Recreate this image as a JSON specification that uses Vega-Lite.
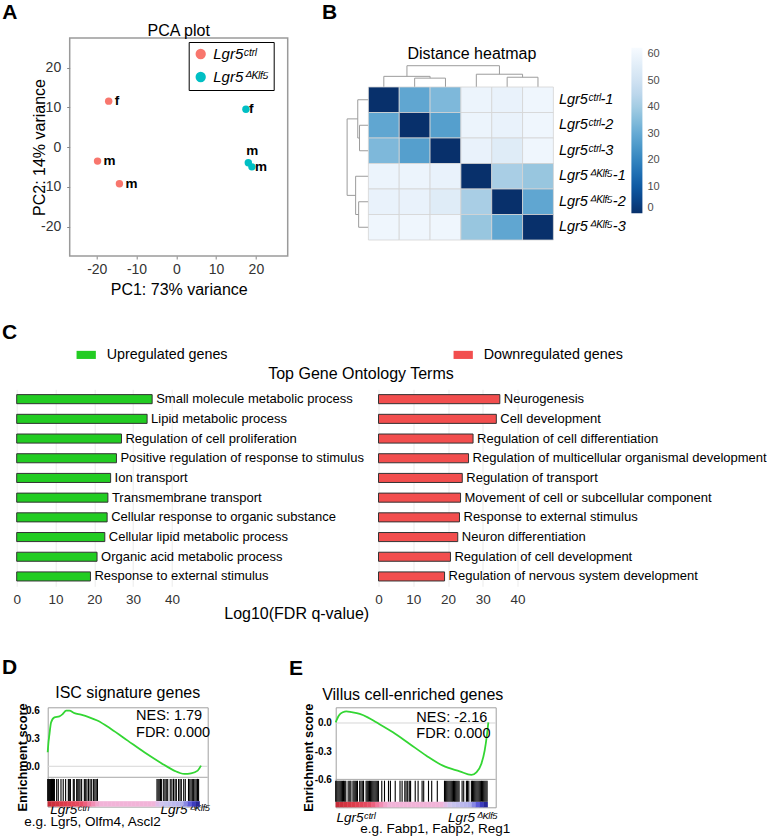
{
"$schema": "https://vega.github.io/schema/vega-lite/v6.json",
"background": "white",
"padding": {"left": 0, "top": 0, "right": 0, "bottom": 0},
"config": {"font": "Liberation Sans", "view": {"stroke": null}, "title": {"color": "black", "fontWeight": "normal"}, "axis": {"labelColor": "#333", "titleColor": "black", "titleFontWeight": "normal"}},
"datasets": {
"sp": [{"s": 0}],
"dendro": [
{"p1":1.5,"p2":1.5,"h1":0,"h2":25},{"p1":2.5,"p2":2.5,"h1":0,"h2":25},{"p1":1.5,"p2":2.5,"h1":25,"h2":25},
{"p1":0.5,"p2":0.5,"h1":0,"h2":30},{"p1":2.0,"p2":2.0,"h1":25,"h2":30},{"p1":0.5,"p2":2.0,"h1":30,"h2":30},
{"p1":4.5,"p2":4.5,"h1":0,"h2":27.5},{"p1":5.5,"p2":5.5,"h1":0,"h2":27.5},{"p1":4.5,"p2":5.5,"h1":27.5,"h2":27.5},
{"p1":3.5,"p2":3.5,"h1":0,"h2":36},{"p1":5.0,"p2":5.0,"h1":27.5,"h2":36},{"p1":3.5,"p2":5.0,"h1":36,"h2":36},
{"p1":1.25,"p2":1.25,"h1":30,"h2":60},{"p1":4.25,"p2":4.25,"h1":36,"h2":60},{"p1":1.25,"p2":4.25,"h1":60,"h2":60}
],
"dist": [
{"r":"Lgr5ᶜᵗʳˡ-1","c":"Lgr5ᶜᵗʳˡ-1","d":0},{"r":"Lgr5ᶜᵗʳˡ-1","c":"Lgr5ᶜᵗʳˡ-2","d":29},{"r":"Lgr5ᶜᵗʳˡ-1","c":"Lgr5ᶜᵗʳˡ-3","d":34},{"r":"Lgr5ᶜᵗʳˡ-1","c":"Lgr5ᐞᴷˡᶠ⁵-1","d":59},{"r":"Lgr5ᶜᵗʳˡ-1","c":"Lgr5ᐞᴷˡᶠ⁵-2","d":58},{"r":"Lgr5ᶜᵗʳˡ-1","c":"Lgr5ᐞᴷˡᶠ⁵-3","d":60},
{"r":"Lgr5ᶜᵗʳˡ-2","c":"Lgr5ᶜᵗʳˡ-1","d":29},{"r":"Lgr5ᶜᵗʳˡ-2","c":"Lgr5ᶜᵗʳˡ-2","d":0},{"r":"Lgr5ᶜᵗʳˡ-2","c":"Lgr5ᶜᵗʳˡ-3","d":27},{"r":"Lgr5ᶜᵗʳˡ-2","c":"Lgr5ᐞᴷˡᶠ⁵-1","d":59},{"r":"Lgr5ᶜᵗʳˡ-2","c":"Lgr5ᐞᴷˡᶠ⁵-2","d":58},{"r":"Lgr5ᶜᵗʳˡ-2","c":"Lgr5ᐞᴷˡᶠ⁵-3","d":60},
{"r":"Lgr5ᶜᵗʳˡ-3","c":"Lgr5ᶜᵗʳˡ-1","d":34},{"r":"Lgr5ᶜᵗʳˡ-3","c":"Lgr5ᶜᵗʳˡ-2","d":27},{"r":"Lgr5ᶜᵗʳˡ-3","c":"Lgr5ᶜᵗʳˡ-3","d":0},{"r":"Lgr5ᶜᵗʳˡ-3","c":"Lgr5ᐞᴷˡᶠ⁵-1","d":58},{"r":"Lgr5ᶜᵗʳˡ-3","c":"Lgr5ᐞᴷˡᶠ⁵-2","d":55},{"r":"Lgr5ᶜᵗʳˡ-3","c":"Lgr5ᐞᴷˡᶠ⁵-3","d":60},
{"r":"Lgr5ᐞᴷˡᶠ⁵-1","c":"Lgr5ᶜᵗʳˡ-1","d":59},{"r":"Lgr5ᐞᴷˡᶠ⁵-1","c":"Lgr5ᶜᵗʳˡ-2","d":59},{"r":"Lgr5ᐞᴷˡᶠ⁵-1","c":"Lgr5ᶜᵗʳˡ-3","d":58},{"r":"Lgr5ᐞᴷˡᶠ⁵-1","c":"Lgr5ᐞᴷˡᶠ⁵-1","d":0},{"r":"Lgr5ᐞᴷˡᶠ⁵-1","c":"Lgr5ᐞᴷˡᶠ⁵-2","d":41},{"r":"Lgr5ᐞᴷˡᶠ⁵-1","c":"Lgr5ᐞᴷˡᶠ⁵-3","d":38},
{"r":"Lgr5ᐞᴷˡᶠ⁵-2","c":"Lgr5ᶜᵗʳˡ-1","d":58},{"r":"Lgr5ᐞᴷˡᶠ⁵-2","c":"Lgr5ᶜᵗʳˡ-2","d":58},{"r":"Lgr5ᐞᴷˡᶠ⁵-2","c":"Lgr5ᶜᵗʳˡ-3","d":55},{"r":"Lgr5ᐞᴷˡᶠ⁵-2","c":"Lgr5ᐞᴷˡᶠ⁵-1","d":41},{"r":"Lgr5ᐞᴷˡᶠ⁵-2","c":"Lgr5ᐞᴷˡᶠ⁵-2","d":0},{"r":"Lgr5ᐞᴷˡᶠ⁵-2","c":"Lgr5ᐞᴷˡᶠ⁵-3","d":29},
{"r":"Lgr5ᐞᴷˡᶠ⁵-3","c":"Lgr5ᶜᵗʳˡ-1","d":60},{"r":"Lgr5ᐞᴷˡᶠ⁵-3","c":"Lgr5ᶜᵗʳˡ-2","d":60},{"r":"Lgr5ᐞᴷˡᶠ⁵-3","c":"Lgr5ᶜᵗʳˡ-3","d":60},{"r":"Lgr5ᐞᴷˡᶠ⁵-3","c":"Lgr5ᐞᴷˡᶠ⁵-1","d":38},{"r":"Lgr5ᐞᴷˡᶠ⁵-3","c":"Lgr5ᐞᴷˡᶠ⁵-2","d":29},{"r":"Lgr5ᐞᴷˡᶠ⁵-3","c":"Lgr5ᐞᴷˡᶠ⁵-3","d":0}
],
"grad": [{"r":0.0125},{"r":0.0375},{"r":0.0625},{"r":0.0875},{"r":0.1125},{"r":0.1375},{"r":0.1625},{"r":0.1875},{"r":0.2125},{"r":0.2375},{"r":0.2625},{"r":0.2875},{"r":0.3125},{"r":0.3375},{"r":0.3625},{"r":0.3875},{"r":0.4125},{"r":0.4375},{"r":0.4625},{"r":0.4875},{"r":0.5125},{"r":0.5375},{"r":0.5625},{"r":0.5875},{"r":0.6125},{"r":0.6375},{"r":0.6625},{"r":0.6875},{"r":0.7125},{"r":0.7375},{"r":0.7625},{"r":0.7875},{"r":0.8125},{"r":0.8375},{"r":0.8625},{"r":0.8875},{"r":0.9125},{"r":0.9375}],
"hitsD": [{"r":0.000},{"r":0.006},{"r":0.012},{"r":0.018},{"r":0.024},{"r":0.030},{"r":0.036},{"r":0.042},{"r":0.056},{"r":0.066},{"r":0.083},{"r":0.097},{"r":0.112},{"r":0.129},{"r":0.135},{"r":0.142},{"r":0.160},{"r":0.166},{"r":0.181},{"r":0.188},{"r":0.195},{"r":0.202},{"r":0.212},{"r":0.229},{"r":0.235},{"r":0.245},{"r":0.255},{"r":0.265},{"r":0.275},{"r":0.287},{"r":0.295},{"r":0.303},{"r":0.311},{"r":0.683},{"r":0.690},{"r":0.697},{"r":0.705},{"r":0.712},{"r":0.725},{"r":0.733},{"r":0.741},{"r":0.750},{"r":0.766},{"r":0.776},{"r":0.786},{"r":0.796},{"r":0.804},{"r":0.818},{"r":0.827},{"r":0.835},{"r":0.850},{"r":0.860},{"r":0.880},{"r":0.888},{"r":0.896},{"r":0.904},{"r":0.912},{"r":0.920},{"r":0.928},{"r":0.936},{"r":0.943}],
"hitsE": [{"r":0},{"r":0.007},{"r":0.014},{"r":0.021},{"r":0.028},{"r":0.035},{"r":0.042},{"r":0.049},{"r":0.056},{"r":0.063},{"r":0.078},{"r":0.088},{"r":0.095},{"r":0.108},{"r":0.115},{"r":0.122},{"r":0.129},{"r":0.136},{"r":0.150},{"r":0.158},{"r":0.166},{"r":0.174},{"r":0.190},{"r":0.197},{"r":0.204},{"r":0.211},{"r":0.218},{"r":0.225},{"r":0.232},{"r":0.239},{"r":0.246},{"r":0.253},{"r":0.260},{"r":0.267},{"r":0.288},{"r":0.305},{"r":0.330},{"r":0.342},{"r":0.372},{"r":0.402},{"r":0.415},{"r":0.432},{"r":0.440},{"r":0.450},{"r":0.460},{"r":0.468},{"r":0.497},{"r":0.515},{"r":0.540},{"r":0.550},{"r":0.580},{"r":0.600},{"r":0.635},{"r":0.680},{"r":0.687},{"r":0.694},{"r":0.701},{"r":0.708},{"r":0.715},{"r":0.722},{"r":0.729},{"r":0.736},{"r":0.743},{"r":0.750},{"r":0.757},{"r":0.764},{"r":0.771},{"r":0.790},{"r":0.800},{"r":0.817},{"r":0.824},{"r":0.832},{"r":0.848},{"r":0.855},{"r":0.862},{"r":0.869},{"r":0.876},{"r":0.883},{"r":0.890},{"r":0.897},{"r":0.904},{"r":0.911},{"r":0.918},{"r":0.925},{"r":0.932},{"r":0.939},{"r":0.946}],
"esD": [{"r":0,"es":0.15},{"r":0.005,"es":0.26},{"r":0.01,"es":0.33},{"r":0.021,"es":0.47},{"r":0.042,"es":0.525},{"r":0.073,"es":0.535},{"r":0.094,"es":0.56},{"r":0.115,"es":0.596},{"r":0.135,"es":0.596},{"r":0.167,"es":0.57},{"r":0.208,"es":0.553},{"r":0.26,"es":0.525},{"r":0.31,"es":0.49},{"r":0.396,"es":0.40},{"r":0.5,"es":0.275},{"r":0.604,"es":0.15},{"r":0.708,"es":0.036},{"r":0.79,"es":-0.046},{"r":0.854,"es":-0.081},{"r":0.896,"es":-0.075},{"r":0.9375,"es":-0.046},{"r":0.958,"es":0.007}],
"esE": [{"r":0,"es":0.007},{"r":0.02,"es":0.08},{"r":0.045,"es":0.115},{"r":0.067,"es":0.124},{"r":0.1,"es":0.115},{"r":0.15,"es":0.096},{"r":0.2,"es":0.06},{"r":0.254,"es":0.007},{"r":0.358,"es":-0.099},{"r":0.4625,"es":-0.223},{"r":0.567,"es":-0.348},{"r":0.67,"es":-0.454},{"r":0.775,"es":-0.514},{"r":0.848,"es":-0.553},{"r":0.879,"es":-0.525},{"r":0.91,"es":-0.436},{"r":0.931,"es":-0.294},{"r":0.946,"es":-0.117},{"r":0.954,"es":0.007}]
},
"resolve": {"scale": {"color": "independent"}, "legend": {"color": "independent"}},
"vconcat": [
{
"hconcat": [
{"width": 1, "height": 1, "data": {"name": "sp"}, "mark": {"type": "point", "size": 0, "opacity": 0}},
{
"hconcat": [
{
"resolve": {"scale": {"color": "independent"}, "legend": {"color": "independent"}},
"vconcat": [
{"width": 1, "height": 1, "data": {"name": "sp"}, "mark": {"type": "point", "size": 0, "opacity": 0}},
{
"title": {"text": "A", "anchor": "start", "fontSize": 21, "fontWeight": "bold", "dx": -28.6, "offset": -0.5},
"vconcat": [{
"width": 218, "height": 218,
"title": {"text": "PCA plot", "fontSize": 16, "offset": -1},
"view": {"stroke": "#9a9a9a", "strokeWidth": 1.5},
"data": {"values": [
{"sample":"C1","group":"Lgr5ᶜᵗʳˡ","PC1":-17,"PC2":11.6,"sex":"f"},
{"sample":"C2","group":"Lgr5ᶜᵗʳˡ","PC1":-19.8,"PC2":-3.5,"sex":"m"},
{"sample":"C3","group":"Lgr5ᶜᵗʳˡ","PC1":-14.3,"PC2":-9.2,"sex":"m"},
{"sample":"K1","group":"Lgr5ᐞᴷˡᶠ⁵","PC1":17.5,"PC2":9.55,"sex":"f"},
{"sample":"K2","group":"Lgr5ᐞᴷˡᶠ⁵","PC1":18.1,"PC2":-3.9,"sex":"m"},
{"sample":"K3","group":"Lgr5ᐞᴷˡᶠ⁵","PC1":19.0,"PC2":-4.95,"sex":"m"}
]},
"encoding": {
"x": {"field": "PC1", "type": "quantitative", "scale": {"domain": [-26.8, 28], "nice": false, "zero": false},
 "axis": {"values": [-20,-10,0,10,20], "title": "PC1: 73% variance", "grid": false, "domain": false, "tickSize": 3, "tickColor": "#888", "labelFontSize": 14, "labelPadding": 3, "titleFontSize": 16, "titlePadding": 5, "labelFlush": false, "labelExpr": "(datum.value < 0 ? '-' : '') + abs(datum.value)"}},
"y": {"field": "PC2", "type": "quantitative", "scale": {"domain": [-27.4, 27.5], "nice": false, "zero": false},
 "axis": {"values": [-20,-10,0,10,20], "title": "PC2: 14% variance", "grid": false, "domain": false, "tickSize": 3, "tickColor": "#888", "labelFontSize": 14, "labelPadding": 6, "titleFontSize": 16, "titleX": -22, "labelExpr": "(datum.value < 0 ? '-' : '') + abs(datum.value)"}}
},
"layer": [
{"mark": {"type": "circle", "size": 55, "opacity": 1},
 "encoding": {"color": {"field": "group", "type": "nominal", "scale": {"domain": ["Lgr5ᶜᵗʳˡ","Lgr5ᐞᴷˡᶠ⁵"], "range": ["#F8766D","#00BFC4"]},
  "legend": {"title": null, "orient": "none", "legendX": 119, "legendY": 4, "strokeColor": "black", "fillColor": "white", "padding": 4.5, "symbolType": "circle", "symbolSize": 106, "labelFontSize": 15, "labelFontStyle": "italic", "labelColor": "black", "labelOffset": 5, "rowPadding": 7,
   "encode": {"legend": {"update": {"strokeWidth": {"value": 1.5}}}}}}}},
{"transform": [{"filter": "datum.sample == 'C1' || datum.sample == 'C2' || datum.sample == 'C3'"}],
 "mark": {"type": "text", "align": "left", "baseline": "middle", "dx": 6, "fontWeight": "bold", "fontSize": 13.5, "color": "black"},
 "encoding": {"text": {"field": "sex"}}},
{"transform": [{"filter": "datum.sample == 'K1' || datum.sample == 'K3'"}],
 "mark": {"type": "text", "align": "left", "baseline": "middle", "dx": 3, "fontWeight": "bold", "fontSize": 13.5, "color": "black"},
 "encoding": {"text": {"field": "sex"}}},
{"transform": [{"filter": "datum.sample == 'K2'"}],
 "mark": {"type": "text", "align": "center", "baseline": "middle", "dx": 4, "dy": -12, "fontWeight": "bold", "fontSize": 13.5, "color": "black"},
 "encoding": {"text": {"field": "sex"}}}
]
}]
}
],
"spacing": 0
},
{
"resolve": {"scale": {"color": "independent"}, "legend": {"color": "independent"}},
"vconcat": [
{"width": 1, "height": 1, "data": {"name": "sp"}, "mark": {"type": "point", "size": 0, "opacity": 0}},
{
"title": {"text": "B", "anchor": "start", "fontSize": 21, "fontWeight": "bold", "dx": -24.3, "offset": 23.2},
"vconcat": [
{
"width": 207, "height": 22,
"title": {"text": "Distance heatmap", "fontSize": 16, "offset": 3, "dx": 22, "anchor": "middle", "frame": "group"},
"data": {"name": "dendro"},
"mark": {"type": "rule", "color": "#9c9c9c", "strokeWidth": 1},
"encoding": {
"x": {"field": "p1", "type": "quantitative", "scale": {"domain": [-0.7135, 6], "nice": false, "zero": false}, "axis": null},
"x2": {"field": "p2"},
"y": {"field": "h1", "type": "quantitative", "scale": {"domain": [0, 62], "nice": false}, "axis": null},
"y2": {"field": "h2"}
}
},
{
"hconcat": [
{
"width": 22, "height": 153,
"data": {"name": "dendro"},
"mark": {"type": "rule", "color": "#9c9c9c", "strokeWidth": 1},
"encoding": {
"y": {"field": "p1", "type": "quantitative", "scale": {"domain": [0, 6], "nice": false, "zero": false, "reverse": true}, "axis": null},
"y2": {"field": "p2"},
"x": {"field": "h1", "type": "quantitative", "scale": {"domain": [0, 62], "nice": false, "reverse": true}, "axis": null},
"x2": {"field": "h2"}
}
},
{
"width": 185, "height": 153,
"data": {"name": "dist"},
"mark": {"type": "rect", "stroke": "#d4d4d4", "strokeWidth": 0.8},
"encoding": {
"x": {"field": "c", "type": "nominal", "sort": ["Lgr5ᶜᵗʳˡ-1","Lgr5ᶜᵗʳˡ-2","Lgr5ᶜᵗʳˡ-3","Lgr5ᐞᴷˡᶠ⁵-1","Lgr5ᐞᴷˡᶠ⁵-2","Lgr5ᐞᴷˡᶠ⁵-3"], "axis": null},
"y": {"field": "r", "type": "nominal", "sort": ["Lgr5ᶜᵗʳˡ-1","Lgr5ᶜᵗʳˡ-2","Lgr5ᶜᵗʳˡ-3","Lgr5ᐞᴷˡᶠ⁵-1","Lgr5ᐞᴷˡᶠ⁵-2","Lgr5ᐞᴷˡᶠ⁵-3"],
 "axis": {"orient": "right", "title": null, "ticks": false, "domain": false, "labelPadding": 5, "labelFontSize": 14.5, "labelFontStyle": "italic", "labelColor": "black"}},
"color": {"field": "d", "type": "quantitative",
 "scale": {"domain": [0,7.8,15.6,23.4,31.2,39,46.8,54.6,62.4], "range": ["#08306b","#08519c","#2171b5","#4292c6","#6baed6","#9ecae1","#c6dbef","#deebf7","#f7fbff"]},
 "legend": {"title": null, "orient": "none", "legendX": 285, "legendY": -17.3, "direction": "vertical", "gradientLength": 165.5, "gradientThickness": 11, "gradientStrokeWidth": 0, "labelFontSize": 11, "labelColor": "#4d4d4d", "labelOffset": 5, "values": [0,10,20,30,40,50,60], "padding": 0}}
}
}
],
"spacing": 0, "bounds": "flush"
}
],
"spacing": 0, "bounds": "flush"
}
],
"spacing": 0
}
],
"spacing": 32.7
}
],
"spacing": 0.7
},
{
"vconcat": [
{
"resolve": {"scale": {"color": "independent"}, "legend": {"color": "independent"}},
"hconcat": [
{"width": 1, "height": 1, "data": {"name": "sp"}, "mark": {"type": "point", "size": 0, "opacity": 0}},
{
"title": {"text": "C", "anchor": "start", "fontSize": 21, "fontWeight": "bold", "dx": -11, "offset": 1.7},
"vconcat": [
{
"width": 10, "height": 1,
"data": {"values": [{"g": "Upregulated genes"}, {"g": "Downregulated genes"}]},
"mark": {"type": "point", "size": 0, "filled": true, "opacity": 1},
"encoding": {"color": {"field": "g", "type": "nominal", "scale": {"domain": ["Upregulated genes","Downregulated genes"], "range": ["#22cc22","#f24e4e"]},
 "legend": {"title": null, "orient": "none", "legendX": 59, "legendY": 0, "direction": "horizontal", "symbolType": "M-1,-0.42H1V0.42H-1Z", "symbolSize": 372, "labelFontSize": 14.3, "labelColor": "black", "labelOffset": 10, "columnPadding": 225, "padding": 0,
  "encode": {"symbols": {"update": {"stroke": {"value": "black"}, "strokeWidth": {"value": 1.8}}}}}}}
},
{
"hconcat": [
{
"width": 163, "height": 197,
"title": {"text": "Top Gene Ontology Terms", "anchor": "start", "frame": "group", "dx": 251.5, "offset": 7.8, "fontSize": 16},
"data": {"values": [
{"term":"Small molecule metabolic process","v":34.9},
{"term":"Lipid metabolic process","v":33.6},
{"term":"Regulation of cell proliferation","v":27.0},
{"term":"Positive regulation of response to stimulus","v":25.7},
{"term":"Ion transport","v":24.2},
{"term":"Transmembrane transport","v":23.5},
{"term":"Cellular response to organic substance","v":23.3},
{"term":"Cellular lipid metabolic process","v":22.7},
{"term":"Organic acid metabolic process","v":20.7},
{"term":"Response to external stimulus","v":19.0}
]},
"encoding": {
"y": {"field": "term", "type": "nominal", "sort": null, "axis": null, "scale": {"paddingInner": 0.54, "paddingOuter": 0.27}},
"x": {"field": "v", "type": "quantitative", "scale": {"domain": [0, 42], "nice": false},
 "axis": {"values": [0,10,20,30,40], "title": "Log10(FDR q-value)", "titleX": 279.5, "titleY": 19, "titleBaseline": "top", "titleAlign": "center", "titleFontSize": 16, "grid": true, "gridColor": "#ebebeb", "domain": false, "ticks": false, "labelPadding": 6, "labelFontSize": 13.5, "labelFlush": false}}
},
"layer": [
{"mark": {"type": "bar", "fill": "#22cc22", "stroke": "#333", "strokeWidth": 1}},
{"mark": {"type": "text", "align": "left", "baseline": "middle", "dx": 4, "fontSize": 13, "color": "black"}, "encoding": {"text": {"field": "term"}}}
]
},
{
"width": 146, "height": 197,
"data": {"values": [
{"term":"Neurogenesis","v":34.9},
{"term":"Cell development","v":33.9},
{"term":"Regulation of cell differentiation","v":27.2},
{"term":"Regulation of multicellular organismal development","v":25.9},
{"term":"Regulation of transport","v":24.1},
{"term":"Movement of cell or subcellular component","v":23.6},
{"term":"Response to external stimulus","v":23.3},
{"term":"Neuron differentiation","v":22.8},
{"term":"Regulation of cell development","v":20.7},
{"term":"Regulation of nervous system development","v":19.0}
]},
"encoding": {
"y": {"field": "term", "type": "nominal", "sort": null, "axis": null, "scale": {"paddingInner": 0.54, "paddingOuter": 0.27}},
"x": {"field": "v", "type": "quantitative", "scale": {"domain": [0, 42], "nice": false},
 "axis": {"values": [0,10,20,30,40], "title": null, "grid": true, "gridColor": "#ebebeb", "domain": false, "ticks": false, "labelPadding": 6, "labelFontSize": 13.5, "labelFlush": false}}
},
"layer": [
{"mark": {"type": "bar", "fill": "#f24e4e", "stroke": "#333", "strokeWidth": 1}},
{"mark": {"type": "text", "align": "left", "baseline": "middle", "dx": 4, "fontSize": 13, "color": "black"}, "encoding": {"text": {"field": "term"}}}
]
}
],
"spacing": 198.8, "bounds": "flush"
}
],
"spacing": 20
}
],
"spacing": 0.7
},
{
"hconcat": [
{"width": 1, "height": 1, "data": {"name": "sp"}, "mark": {"type": "point", "size": 0, "opacity": 0}},
{
"hconcat": [
{
"title": {"text": "D", "anchor": "start", "fontSize": 21, "fontWeight": "bold", "dx": -14.2, "offset": 6.5},
"vconcat": [{
"width": 160, "height": 99.3,
"title": {"text": "ISC signature genes", "fontSize": 16, "offset": 2.1},
"view": {"stroke": "#a0a0a0"},
"layer": [
{"data": {"name": "grad"}, "mark": {"type": "rule", "strokeWidth": 4.3},
 "encoding": {
 "x": {"field": "r", "type": "quantitative", "scale": {"domain": [0, 1], "nice": false},
  "axis": {"values": [0.133, 0.858], "labelExpr": "datum.value < 0.5 ? 'Lgr5ᶜᵗʳˡ' : 'Lgr5ᐞᴷˡᶠ⁵'", "labelFontStyle": "italic", "labelFontSize": 13.5, "labelColor": "black", "labelPadding": -4, "ticks": false, "domain": false, "grid": false, "labelFlush": false, "title": "e.g. Lgr5, Olfm4, Ascl2", "titleFontSize": 13.5, "titleX": 44.3, "titleY": 7.5, "titleBaseline": "top", "titleAlign": "center"}},
 "y": {"datum": -0.374, "type": "quantitative", "scale": {"domain": [-0.432, 0.632], "nice": false, "zero": false},
  "axis": {"values": [0, 0.3, 0.6], "title": "Enrichment score", "titleFontSize": 12.8, "titleFontWeight": "bold", "titleX": -18, "labelFontSize": 10, "labelFontWeight": "bold", "labelColor": "black", "labelPadding": 8.4, "ticks": false, "domain": false, "grid": false, "labelExpr": "(datum.value < 0 ? '-' : '') + format(abs(datum.value), '.1f')"}},
 "y2": {"datum": -0.432},
 "color": {"field": "r", "type": "quantitative", "scale": {"domain": [0,0.1,0.22,0.33,0.66,0.72,0.84,0.9,0.95], "range": ["#c42a36","#dd3a48","#e8506a","#f2b4d8","#f2b4d8","#cbc6ee","#b0b0ec","#4545d2","#1e1e86"]}, "legend": null}
 }},
{"data": {"name": "hitsD"}, "mark": {"type": "rule", "color": "black", "strokeWidth": 1.1},
 "encoding": {"x": {"field": "r", "type": "quantitative"}, "y": {"datum": -0.135}, "y2": {"datum": -0.371}}},
{"data": {"values": [{"v": 0}]}, "mark": {"type": "rule", "color": "#d6d6d6", "strokeWidth": 1}, "encoding": {"y": {"field": "v", "type": "quantitative"}}},
{"data": {"values": [{"v": -0.118}]}, "mark": {"type": "rule", "color": "#a8a8a8", "strokeWidth": 1}, "encoding": {"y": {"field": "v", "type": "quantitative"}}},
{"data": {"name": "esD"}, "mark": {"type": "line", "color": "#33d633", "strokeWidth": 1.8, "interpolate": "monotone"},
 "encoding": {"x": {"field": "r", "type": "quantitative"}, "y": {"field": "es", "type": "quantitative"}}},
{"data": {"values": [{"t": "NES: 1.79\nFDR: 0.000"}]}, "mark": {"type": "text", "align": "left", "baseline": "top", "lineBreak": "\n", "lineHeight": 16.7, "fontSize": 14.5, "color": "black"},
 "encoding": {"x": {"datum": 0.552}, "y": {"datum": 0.61}, "text": {"field": "t"}}}
]
}]
},
{
"title": {"text": "E", "anchor": "start", "fontSize": 21, "fontWeight": "bold", "dx": -13.2, "offset": 7.2},
"vconcat": [{
"width": 160, "height": 100,
"title": {"text": "Villus cell-enriched genes", "fontSize": 16, "offset": 0.3, "dx": -3},
"view": {"stroke": "#a0a0a0"},
"layer": [
{"data": {"name": "grad"}, "mark": {"type": "rule", "strokeWidth": 4.3},
 "encoding": {
 "x": {"field": "r", "type": "quantitative", "scale": {"domain": [0, 1], "nice": false},
  "axis": {"values": [0.122, 0.855], "labelExpr": "datum.value < 0.5 ? 'Lgr5ᶜᵗʳˡ' : 'Lgr5ᐞᴷˡᶠ⁵'", "labelFontStyle": "italic", "labelFontSize": 13.5, "labelColor": "black", "labelPadding": 2.9, "ticks": false, "domain": false, "grid": false, "labelFlush": false, "title": "e.g. Fabp1, Fabp2, Reg1", "titleFontSize": 13.5, "titleX": 99, "titleY": 14.6, "titleBaseline": "top", "titleAlign": "center"}},
 "y": {"datum": -0.838, "type": "quantitative", "scale": {"domain": [-0.897, 0.167], "nice": false, "zero": false},
  "axis": {"values": [0, -0.3, -0.6], "title": "Enrichment score", "titleFontSize": 12.8, "titleFontWeight": "bold", "titleX": -20, "labelFontSize": 10, "labelFontWeight": "bold", "labelColor": "black", "labelPadding": 4.3, "ticks": false, "domain": false, "grid": false, "labelExpr": "(datum.value < 0 ? '-' : '') + format(abs(datum.value), '.1f')"}},
 "y2": {"datum": -0.897},
 "color": {"field": "r", "type": "quantitative", "scale": {"domain": [0,0.1,0.22,0.33,0.66,0.72,0.84,0.9,0.95], "range": ["#c42a36","#dd3a48","#e8506a","#f2b4d8","#f2b4d8","#cbc6ee","#b0b0ec","#4545d2","#1e1e86"]}, "legend": null}
 }},
{"data": {"name": "hitsE"}, "mark": {"type": "rule", "color": "black", "strokeWidth": 1.1},
 "encoding": {"x": {"field": "r", "type": "quantitative"}, "y": {"datum": -0.614}, "y2": {"datum": -0.837}}},
{"data": {"values": [{"v": 0}]}, "mark": {"type": "rule", "color": "#d6d6d6", "strokeWidth": 1}, "encoding": {"y": {"field": "v", "type": "quantitative"}}},
{"data": {"values": [{"v": -0.6}]}, "mark": {"type": "rule", "color": "#a8a8a8", "strokeWidth": 1}, "encoding": {"y": {"field": "v", "type": "quantitative"}}},
{"data": {"name": "esE"}, "mark": {"type": "line", "color": "#33d633", "strokeWidth": 1.8, "interpolate": "monotone"},
 "encoding": {"x": {"field": "r", "type": "quantitative"}, "y": {"field": "es", "type": "quantitative"}}},
{"data": {"values": [{"t": "NES: -2.16\nFDR: 0.000"}]}, "mark": {"type": "text", "align": "left", "baseline": "top", "lineBreak": "\n", "lineHeight": 15.6, "fontSize": 14.5, "color": "black"},
 "encoding": {"x": {"datum": 0.504}, "y": {"datum": 0.125}, "text": {"field": "t"}}}
]
}]
}
],
"spacing": 78
}
],
"spacing": 0.7
}
],
"spacing": 35
}
],
"spacing": 23.3
}
